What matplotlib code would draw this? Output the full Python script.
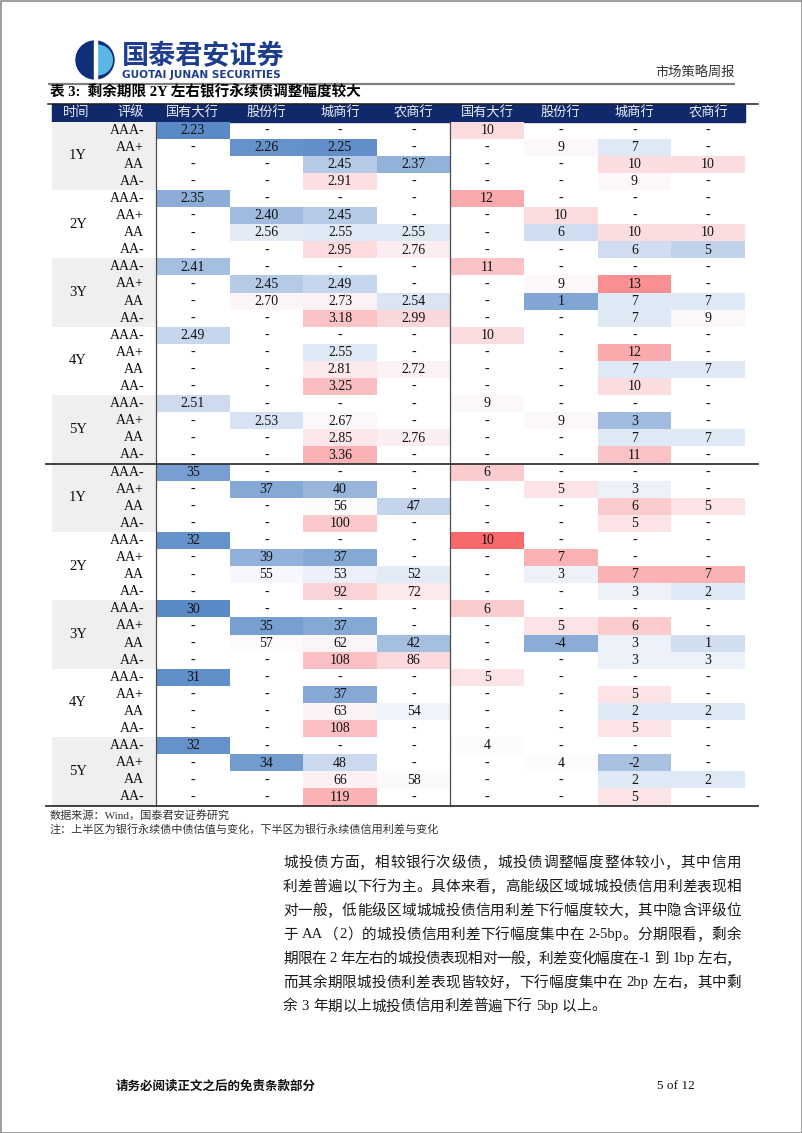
import matplotlib
matplotlib.use('Agg')
import matplotlib.pyplot as plt
from matplotlib.patches import Rectangle, Circle, Wedge
from matplotlib.colors import LinearSegmentedColormap, TwoSlopeNorm

# ---------------- data ----------------
tenors = ['1Y', '2Y', '3Y', '4Y', '5Y']
ratings = ['AAA-', 'AA+', 'AA', 'AA-']
bank_types = ['国有大行', '股份行', '城商行', '农商行']
header_labels = ['时间', '评级'] + bank_types + bank_types
N = None

# upper half: ChinaBond valuation (%) and change (bp)
valuation = [
    [2.23, N, N, N], [N, 2.26, 2.25, N], [N, N, 2.45, 2.37], [N, N, 2.91, N],
    [2.35, N, N, N], [N, 2.40, 2.45, N], [N, 2.56, 2.55, 2.55], [N, N, 2.95, 2.76],
    [2.41, N, N, N], [N, 2.45, 2.49, N], [N, 2.70, 2.73, 2.54], [N, N, 3.18, 2.99],
    [2.49, N, N, N], [N, N, 2.55, N], [N, N, 2.81, 2.72], [N, N, 3.25, N],
    [2.51, N, N, N], [N, 2.53, 2.67, N], [N, N, 2.85, 2.76], [N, N, 3.36, N],
]
valuation_chg = [
    [10, N, N, N], [N, 9, 7, N], [N, N, 10, 10], [N, N, 9, N],
    [12, N, N, N], [N, 10, N, N], [N, 6, 10, 10], [N, N, 6, 5],
    [11, N, N, N], [N, 9, 13, N], [N, 1, 7, 7], [N, N, 7, 9],
    [10, N, N, N], [N, N, 12, N], [N, N, 7, 7], [N, N, 10, N],
    [9, N, N, N], [N, 9, 3, N], [N, N, 7, 7], [N, N, 11, N],
]
# lower half: credit spread (bp) and change (bp)
spread = [
    [35, N, N, N], [N, 37, 40, N], [N, N, 56, 47], [N, N, 100, N],
    [32, N, N, N], [N, 39, 37, N], [N, 55, 53, 52], [N, N, 92, 72],
    [30, N, N, N], [N, 35, 37, N], [N, 57, 62, 42], [N, N, 108, 86],
    [31, N, N, N], [N, N, 37, N], [N, N, 63, 54], [N, N, 108, N],
    [32, N, N, N], [N, 34, 48, N], [N, N, 66, 58], [N, N, 119, N],
]
spread_chg = [
    [6, N, N, N], [N, 5, 3, N], [N, N, 6, 5], [N, N, 5, N],
    [10, N, N, N], [N, 7, N, N], [N, 3, 7, 7], [N, N, 3, 2],
    [6, N, N, N], [N, 5, 6, N], [N, -4, 3, 1], [N, N, 3, 3],
    [5, N, N, N], [N, N, 5, N], [N, N, 2, 2], [N, N, 5, N],
    [4, N, N, N], [N, 4, -2, N], [N, N, 2, 2], [N, N, 5, N],
]

title = '表 3:  剩余期限 2Y 左右银行永续债调整幅度较大'
source_note = '数据来源：Wind，国泰君安证券研究'
note = '注：上半区为银行永续债中债估值与变化，下半区为银行永续债信用利差与变化'
body_lines = [
    '城投债方面，相较银行次级债，城投债调整幅度整体较小，其中信用',
    '利差普遍以下行为主。具体来看，高能级区域城城投债信用利差表现相',
    '对一般，低能级区域城城投债信用利差下行幅度较大，其中隐含评级位',
    '于 AA（2）的城投债信用利差下行幅度集中在 2-5bp。分期限看，剩余',
    '期限在 2 年左右的城投债表现相对一般，利差变化幅度在-1 到 1bp 左右，',
    '而其余期限城投债利差表现皆较好，下行幅度集中在 2bp 左右，其中剩',
    '余 3 年期以上城投债信用利差普遍下行 5bp 以上。',
]

# ---------------- style ----------------
CJK = 'Noto Sans CJK SC'
SERIF = 'Liberation Serif'
MIX = [SERIF, CJK]
NAVY = '#10296B'
cmap = LinearSegmentedColormap.from_list('excel3', ['#5A8AC6', '#FCFCFF', '#F8696B'])
norms = [
    TwoSlopeNorm(vmin=2.23, vcenter=2.62, vmax=4.1),
    TwoSlopeNorm(vmin=-1.5, vcenter=8.8, vmax=14.5),
    TwoSlopeNorm(vmin=30, vcenter=56, vmax=182),
    TwoSlopeNorm(vmin=-7.5, vcenter=4, vmax=10),
]

fig = plt.figure(figsize=(8.02, 11.33), dpi=100)
ax = fig.add_axes([0, 0, 1, 1])
ax.set_xlim(0, 802)
ax.set_ylim(1133, 0)
ax.axis('off')

# page border
ax.add_patch(Rectangle((0.5, 0.5), 801, 1132, fill=False, edgecolor='#8C8C8C', lw=1.2))

# ---------------- logo / page header ----------------
cx, cy, R = 95, 60, 19
ax.add_patch(Circle((cx, cy), R, color='#0E2F7A'))
ax.add_patch(Wedge((cx + 2.5, cy), R * 0.78, -90, 90, color='#5BB8E6'))
ax.add_patch(Rectangle((cx - 1.2, cy - R - 1), 3.2, 2 * R + 2, color='white'))
ax.text(122, 56, '国泰君安证券', family=CJK, fontsize=19.5, fontweight='bold',
        color='#1E3D8F', ha='left', va='center')
ax.text(122.5, 74.5, 'GUOTAI JUNAN SECURITIES', family='DejaVu Sans', fontsize=7.6,
        fontweight='bold', color='#1E3D8F', ha='left', va='center')
ax.text(735, 72, '市场策略周报', family=CJK, fontsize=9.5, color='#333333',
        ha='right', va='center')
ax.plot([48, 735], [83.5, 83.5], color='#808080', lw=1.6, solid_capstyle='butt')

# title
ax.text(50, 92.5, title, family=MIX, fontsize=10.5, fontweight='bold', color='black',
        ha='left', va='center')
ax.plot([48, 758], [103.5, 103.5], color='#222222', lw=1.1)

# ---------------- table ----------------
x_left = 52
cw = 73.6
x0 = 156
y_head = 104
row_h = 17.1
y0 = 121.5
n_rows = 40

# header band
ax.add_patch(Rectangle((x_left, y_head), x0 + 8 * cw - x_left, y0 - y_head, color=NAVY))
head_centers = [76, 131] + [x0 + (k + 0.5) * cw for k in range(8)]
for xc, lab in zip(head_centers, header_labels):
    ax.text(xc, (y_head + y0) / 2, lab, family=CJK, fontsize=9.5, color='#E8ECF5',
            ha='center', va='center')

blocks = [(valuation, valuation_chg, 0), (spread, spread_chg, 20)]
for half, (left_vals, right_vals, r_off) in enumerate(blocks):
    for ti, ten in enumerate(tenors):
        yb = y0 + (r_off + ti * 4) * row_h
        if ti % 2 == 0:
            ax.add_patch(Rectangle((x_left, yb), x0 - x_left, 4 * row_h, color='#EFEFEF', lw=0))
        ax.text(78, yb + 2 * row_h, ten, family=SERIF, fontsize=10.5, color='#111111',
                ha='center', va='center')
        for ri, rat in enumerate(ratings):
            ax.text(144, yb + (ri + 0.5) * row_h, rat, family=SERIF, fontsize=10,
                    color='#111111', ha='right', va='center')
    for side, data in enumerate([left_vals, right_vals]):
        norm = norms[half * 2 + side]
        for r, row in enumerate(data):
            yr = y0 + (r_off + r) * row_h
            for c, v in enumerate(row):
                xc = x0 + (side * 4 + c) * cw
                if v is None:
                    txt = '-'
                else:
                    ax.add_patch(Rectangle((xc, yr), cw, row_h, facecolor=cmap(norm(v)),
                                           edgecolor='none'))
                    txt = f'{v:.2f}' if (half == 0 and side == 0) else f'{v:d}'
                ax.text(xc + cw / 2, yr + row_h / 2 + 0.3, txt, family=SERIF, fontsize=10,
                        color='#111111', ha='center', va='center')

y_end = y0 + n_rows * row_h
ax.plot([x0, x0], [y0, y_end], color='#4D4D4D', lw=0.9)
ax.plot([x0 + 4 * cw, x0 + 4 * cw], [y0, y_end], color='#4D4D4D', lw=0.9)
ax.plot([46, 758], [y0 + 20 * row_h, y0 + 20 * row_h], color='#333333', lw=1.3)
ax.plot([46, 758], [y_end + 0.5, y_end + 0.5], color='#333333', lw=1.3)

ax.text(50, 815.5, source_note, family=MIX, fontsize=8, color='#333333', ha='left', va='center')
ax.text(50, 829.5, note, family=MIX, fontsize=8, color='#333333', ha='left', va='center')

# ---------------- body paragraph (justified) ----------------
fig.canvas.draw()
renderer = fig.canvas.get_renderer()
BODY_SIZE = 10.5
em = BODY_SIZE * 100 / 72.0
SPACE_W = 3.5


def tokenize(line):
    toks = []
    buf = ''
    for ch in line:
        if ord(ch) < 128:
            if ch == ' ':
                if buf:
                    toks.append(buf)
                    buf = ''
                toks.append(' ')
            else:
                buf += ch
        else:
            if buf:
                toks.append(buf)
                buf = ''
            toks.append(ch)
    if buf:
        toks.append(buf)
    return toks


def ascii_width(s):
    t = ax.text(0, 0, s, family=SERIF, fontsize=BODY_SIZE)
    w = t.get_window_extent(renderer).width
    t.remove()
    return w


def draw_line(line, xa, xb, y, justify):
    toks = tokenize(line)
    widths = []
    for tk in toks:
        if tk == ' ':
            widths.append(SPACE_W)
        elif ord(tk[0]) < 128:
            widths.append(ascii_width(tk) + 1.0)
        else:
            widths.append(em)
    n_gap = sum(1 for tk in toks if tk != ' ') - 1
    total = sum(widths)
    gap = (xb - xa - total) / n_gap if (justify and n_gap > 0) else 0.0
    x = xa
    for tk, w in zip(toks, widths):
        if tk == ' ':
            x += w
            continue
        if ord(tk[0]) < 128:
            ax.text(x + 0.5, y, tk, family=SERIF, fontsize=BODY_SIZE, color='#1A1A1A',
                    ha='left', va='center')
        else:
            ax.text(x + em / 2, y, tk, family=CJK, fontsize=BODY_SIZE, color='#1A1A1A',
                    ha='center', va='center')
        x += w + gap


for i, line in enumerate(body_lines):
    draw_line(line, 283, 741, 863 + i * 23.9, justify=(i < len(body_lines) - 1))

# ---------------- footer ----------------
ax.text(116, 1086, '请务必阅读正文之后的免责条款部分', family=CJK, fontsize=9,
        fontweight='bold', color='#111111', ha='left', va='center')
ax.text(695, 1086, '5 of 12', family=SERIF, fontsize=9.5, color='#111111',
        ha='right', va='center')

fig.savefig('out.png', dpi=100)
